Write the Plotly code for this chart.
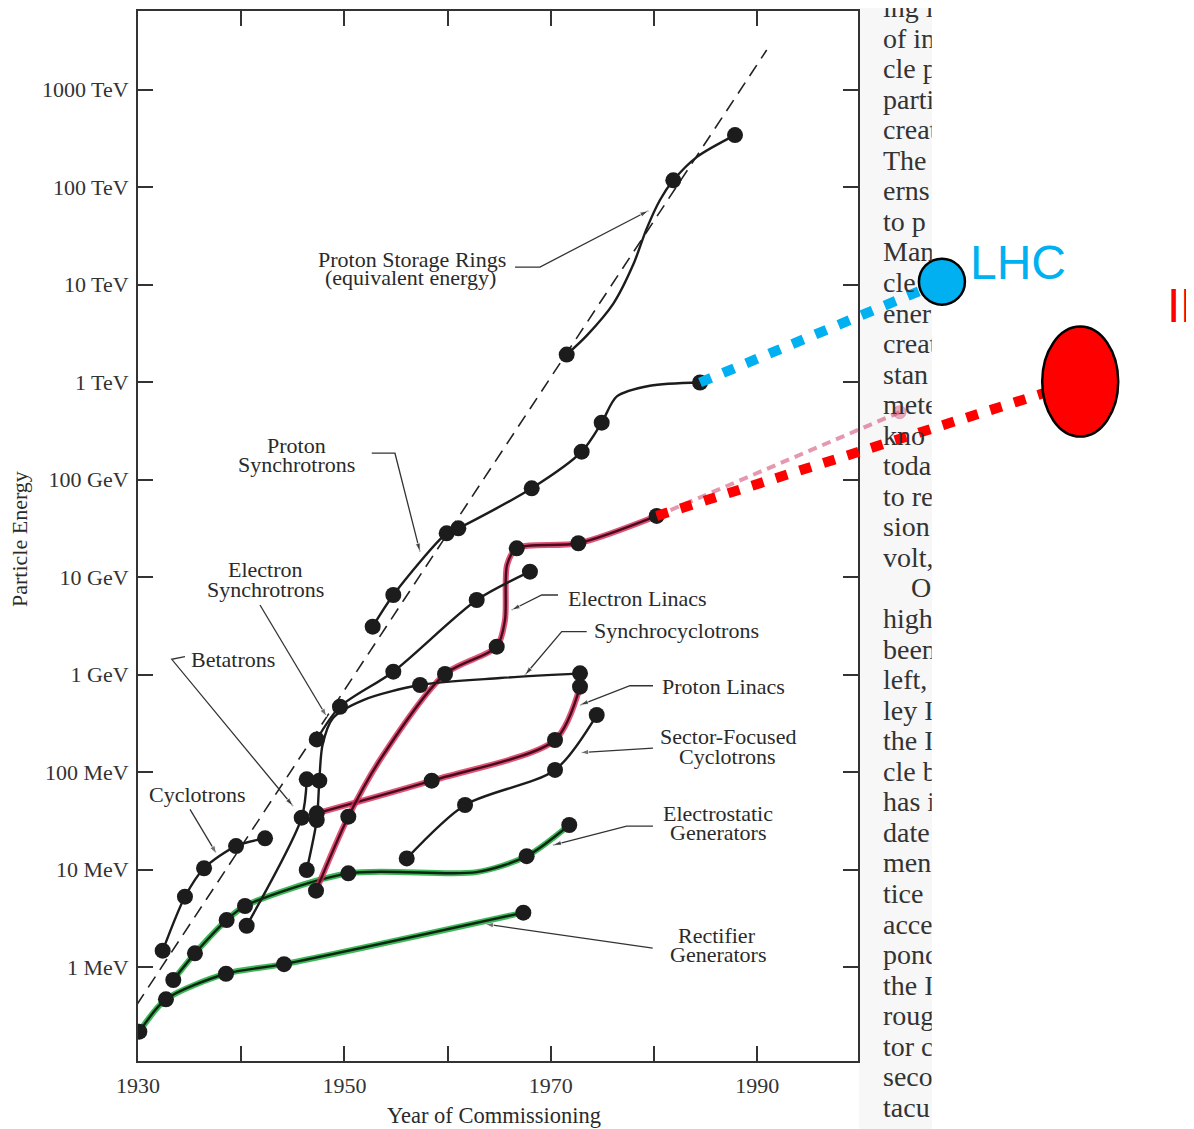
import math
import plotly.graph_objects as go

# the page adds an 8 px body margin, so the figure is 8 px smaller than the window
OFF = 8
W, H = 1194 - OFF, 1129 - OFF

# ---------------- data: year of commissioning, particle energy (MeV) ----------------
rect_year = [1930.13, 1932.71, 1938.53, 1944.15, 1967.34]
rect_mev = [0.217, 0.466, 0.853, 1.07, 3.61]

estat_year = [1933.42, 1935.52, 1938.59, 1940.37, 1950.38, 1967.66, 1971.79]
estat_mev = [0.736, 1.38, 3.03, 4.22, 9.14, 13.7, 28.6]
estat_curve_year = [1933.42, 1935.52, 1938.59, 1940.37, 1950.38, 1962.8, 1967.66, 1971.79]
estat_curve_mev = [0.736, 1.38, 3.03, 4.22, 9.14, 9.40, 13.7, 28.6]

cyc_year = [1932.39, 1934.55, 1936.40, 1939.50, 1942.31]
cyc_mev = [1.47, 5.26, 10.3, 17.4, 20.9]

beta_year = [1940.53, 1945.86, 1946.35]
beta_mev = [2.65, 34.0, 84.1]

esync_year = [1947.32, 1949.57, 1954.74, 1962.82, 1967.98]
esync_mev = [216, 467, 1069, 5808, 11330]

sc_year = [1946.35, 1947.32, 1947.57, 1957.33, 1972.83]
sc_mev = [9.89, 32.2, 81.4, 780, 1028]
sc_curve_year = [1946.35, 1947.32, 1947.57, 1947.88, 1948.90, 1951.83, 1957.33, 1965.08, 1972.83]
sc_curve_mev = [9.89, 32.2, 81.4, 189, 358, 547, 780, 920, 1028]

plin_year = [1947.32, 1958.46, 1970.41, 1972.83]
plin_mev = [37.7, 81.5, 213, 750]

elin_year = [1947.25, 1950.38, 1959.75, 1964.76, 1966.70, 1972.67, 1980.26]
elin_mev = [6.06, 34.8, 1012, 1928, 19690, 22180, 42270]
elin_curve_year = [1947.25, 1950.38, 1953.45, 1959.75, 1964.76, 1965.56, 1965.76, 1966.70, 1972.67, 1980.26]
elin_curve_mev = [6.06, 34.8, 133, 1012, 1928, 3622, 13280, 19690, 22180, 42270]

sfc_year = [1956.04, 1961.69, 1970.41, 1974.45]
sfc_mev = [13.0, 45.9, 105, 384]

psync_year = [1952.74, 1954.74, 1959.91, 1961.04, 1968.15, 1972.99, 1974.93, 1984.46]
psync_mev = [3093, 6535, 28070, 31580, 81200, 192800, 382600, 988000]
psync_curve_year = [1952.74, 1954.74, 1959.91, 1961.04, 1968.15, 1972.99, 1974.93, 1976.4, 1979.6, 1984.46]
psync_curve_mev = [3093, 6535, 28070, 31580, 81200, 192800, 382600, 711000, 916000, 988000]

psr_year = [1971.54, 1981.87, 1987.85]
psr_mev = [1.91e6, 1.17e8, 3.41e8]
psr_curve_year = [1971.54, 1973.48, 1976.06, 1978.0, 1979.29, 1980.58, 1981.87, 1984.2, 1987.85]
psr_curve_mev = [1.91e6, 2.99e6, 6.37e6, 1.61e7, 3.74e7, 7.36e7, 1.17e8, 2.05e8, 3.41e8]

trend_year = [1929.87, 1990.92]
trend_mev = [0.408, 2.54e9]

# future machines
lhc_year, lhc_mev = 2007.9, 1.07e7
ilc_year, ilc_mev = 2021.3, 1.01e6
old_guess_year = [1980.26, 2003.8]
old_guess_mev = [42270, 4.9e5]

# leader lines of the labels (year, MeV)
leaders = {
    "storage": ([1966.53, 1968.95, 1979.45], [1.51e7, 1.51e7, 5.71e7]),
    "psync": ([1952.65, 1954.90, 1957.32], [1.86e5, 1.86e5, 1.82e4]),
    "esync": ([1941.82, 1948.29], [5164, 369]),
    "beta": ([1934.55, 1933.27, 1945.02], [1523, 1432, 44.8]),
    "cyc": ([1935.04, 1937.63], [41.4, 14.4]),
    "elin": ([1970.70, 1969.12, 1966.21], [6535, 6535, 4590]),
    "sc": ([1973.48, 1971.06, 1967.50], [2748, 2748, 988]),
    "plin": ([1979.90, 1977.67, 1972.83], [767, 767, 486]),
    "sfc": ([1979.90, 1972.83], [176, 158]),
    "estat": ([1979.90, 1977.35, 1970.21], [27.9, 27.9, 17.8]),
    "rect": ([1979.87, 1963.62], [1.56, 2.76]),
}

y_tickvals = [1, 10, 100, 1e3, 1e4, 1e5, 1e6, 1e7, 1e8, 1e9]
y_ticktext = ["1 MeV", "10 MeV", "100 MeV", "1 GeV", "10 GeV", "100 GeV",
              "1 TeV", "10 TeV", "100 TeV", "1000 TeV"]
x_tickvals = [1930, 1940, 1950, 1960, 1970, 1980, 1990]
x_ticktext = ["1930", "", "1950", "", "1970", "", "1990"]
timeline_ticks = [2010, 2020, 2030]

book_lines = ["ing l", "of in", "cle p", "parti", "creat", "The ", "erns", "to p",
              "Man", "cle", "ener", "creat", "stan", "mete", "kno", "toda", "to re",
              "sion", "volt,", "\u00a0\u00a0\u00a0\u00a0O", "high", "been", "left,",
              "ley I", "the I", "cle b", "has i", "date", "men", "tice", "acce",
              "ponc", "the I", "roug", "tor c", "seco", "tacu"]

# ---------------- layout helpers (window pixels -> paper) ----------------
def px(x):
    return (x - OFF) / W


def py(y):
    return 1 - (y - OFF) / H


# pixel scale of the main chart (shared by the overlay axes)
X0, PX_PER_YEAR = 138.0, 10.32
Y0, PX_PER_DECADE = 967.0, 97.5


def year_px(year):
    return X0 + (year - 1930) * PX_PER_YEAR


def mev_py(mev):
    return Y0 - PX_PER_DECADE * math.log10(mev)


SERIF = "Liberation Serif, Times New Roman, serif"
SANS = "Liberation Sans, Arial, sans-serif"
INK = "#1c1c1c"
GREY = "#333333"

fig = go.Figure()

# reference dashed trend line
fig.add_trace(go.Scatter(x=trend_year, y=trend_mev, mode="lines",
                         line=dict(color="#222", width=1.6, dash="13px,8px"),
                         hoverinfo="skip", xaxis="x", yaxis="y"))

# leader lines
for key, (lx, ly) in leaders.items():
    sizes = [0] * (len(lx) - 1) + [9]
    fig.add_trace(go.Scatter(x=lx, y=ly, mode="lines+markers",
                             line=dict(color=GREY, width=1.3),
                             marker=dict(symbol="arrow", size=sizes, color=GREY,
                                         angleref="previous"),
                             hoverinfo="skip", xaxis="x", yaxis="y"))

GREEN_HALO = "rgba(40,175,70,0.9)"
RED_HALO = "rgba(215,40,85,0.8)"

curves = [
    (rect_year, rect_mev, GREEN_HALO, "#0d2410"),
    (estat_curve_year, estat_curve_mev, GREEN_HALO, "#0d2410"),
    (plin_year, plin_mev, RED_HALO, "#4a0a1e"),
    (elin_curve_year, elin_curve_mev, RED_HALO, "#4a0a1e"),
]
for cx, cy, halo, core in curves:
    fig.add_trace(go.Scatter(x=cx, y=cy, mode="lines",
                             line=dict(color=halo, width=6, shape="spline", smoothing=0.8),
                             hoverinfo="skip", xaxis="x", yaxis="y"))
    fig.add_trace(go.Scatter(x=cx, y=cy, mode="lines",
                             line=dict(color=core, width=2.4, shape="spline", smoothing=0.8),
                             hoverinfo="skip", xaxis="x", yaxis="y"))

black_curves = [
    (cyc_year, cyc_mev),
    (beta_year, beta_mev),
    (esync_year, esync_mev),
    (sc_curve_year, sc_curve_mev),
    (sfc_year, sfc_mev),
    (psync_curve_year, psync_curve_mev),
    (psr_curve_year, psr_curve_mev),
]
for cx, cy in black_curves:
    fig.add_trace(go.Scatter(x=cx, y=cy, mode="lines",
                             line=dict(color=INK, width=2.4, shape="spline", smoothing=0.8),
                             hoverinfo="skip", xaxis="x", yaxis="y"))

# machine markers
all_points = [
    (rect_year, rect_mev), (estat_year, estat_mev), (cyc_year, cyc_mev),
    (beta_year, beta_mev), (esync_year, esync_mev), (sc_year, sc_mev),
    (plin_year, plin_mev), (elin_year, elin_mev), (sfc_year, sfc_mev),
    (psync_year, psync_mev), (psr_year, psr_mev),
]
for mx, my in all_points:
    fig.add_trace(go.Scatter(x=mx, y=my, mode="markers",
                             marker=dict(color=INK, size=16, line=dict(width=0)),
                             hoverinfo="skip", xaxis="x", yaxis="y"))

# ---------------- overlay: future machines ----------------
fig.add_trace(go.Scatter(x=old_guess_year, y=old_guess_mev, mode="lines+markers",
                         line=dict(color="rgba(205,70,110,0.55)", width=4, dash="9px,6px"),
                         marker=dict(size=[0, 13], color="rgba(205,70,110,0.6)"),
                         hoverinfo="skip", xaxis="x2", yaxis="y2"))
fig.add_trace(go.Scatter(x=[elin_year[-1], ilc_year], y=[elin_mev[-1], ilc_mev], mode="lines",
                         line=dict(color="#ff0000", width=10, dash="12px,13px"),
                         hoverinfo="skip", xaxis="x2", yaxis="y2"))
fig.add_trace(go.Scatter(x=[psync_year[-1], lhc_year], y=[psync_mev[-1], lhc_mev], mode="lines",
                         line=dict(color="#00b0f0", width=10, dash="12px,13px"),
                         hoverinfo="skip", xaxis="x2", yaxis="y2"))
fig.add_trace(go.Scatter(x=[lhc_year], y=[lhc_mev], mode="markers",
                         marker=dict(symbol="circle", size=46, color="#00b0f0",
                                     line=dict(color="black", width=2.5)),
                         hoverinfo="skip", xaxis="x2", yaxis="y2"))

# ---------------- book text column (clipped) ----------------
fig.add_trace(go.Scatter(x=[0.0] * len(book_lines), y=list(range(len(book_lines))),
                         mode="text", text=book_lines, textposition="middle right",
                         textfont=dict(family=SERIF, size=28, color="#333"),
                         cliponaxis=True, hoverinfo="skip", xaxis="x4", yaxis="y4"))

ilc_x, ilc_y = year_px(ilc_year), mev_py(ilc_mev)
shapes = [
    dict(type="rect", xref="paper", yref="paper", x0=px(859), x1=px(932), y0=0, y1=1,
         fillcolor="#f7f7f7", line=dict(width=0), layer="below"),
    dict(type="circle", xref="paper", yref="paper",
         x0=px(ilc_x - 38), x1=px(ilc_x + 38), y0=py(ilc_y + 55), y1=py(ilc_y - 55),
         fillcolor="#ff0000", line=dict(color="black", width=2.5), layer="above"),
]

ann = []


def label(text, x, y, size=22, **kw):
    ann.append(dict(text=text, x=px(x), y=py(y), xref="paper", yref="paper",
                    showarrow=False, xanchor=kw.get("xanchor", "center"), yanchor="middle",
                    font=dict(family=kw.get("family", SERIF), size=size,
                              color=kw.get("color", "#2a2a2a")),
                    textangle=kw.get("textangle", 0)))


label("Proton Storage Rings", 412, 259)
label("(equivalent energy)", 410, 278)
label("Proton", 296, 445)
label("Synchrotrons", 296, 465)
label("Electron", 265, 569)
label("Synchrotrons", 265, 589)
label("Betatrons", 233, 659)
label("Cyclotrons", 197, 794)
label("Electron Linacs", 637, 598)
label("Synchrocyclotrons", 676, 630)
label("Proton Linacs", 723, 686)
label("Sector-Focused", 728, 736)
label("Cyclotrons", 727, 756)
label("Electrostatic", 718, 813)
label("Generators", 718, 832)
label("Rectifier", 717, 935)
label("Generators", 718, 954)
label("Particle Energy", 20, 539, size=22, textangle=-90)
label("Year of Commissioning", 494, 1115, size=22.5)
label("LHC", 968, 262, size=48, family=SANS, color="#00b0f0", xanchor="left")
label("ILC", 1165, 306, size=48, family=SANS, color="#ff0000", xanchor="left")

# ---------------- axes ----------------
x_lo = 1930 + (138.0 - X0) / PX_PER_YEAR
x_hi = 1930 + (858 - X0) / PX_PER_YEAR
y_lo = (Y0 - 1061) / PX_PER_DECADE
y_hi = (Y0 - 11) / PX_PER_DECADE

axis_common = dict(showgrid=False, zeroline=False, automargin=False)

fig.update_layout(
    width=W, height=H,
    margin=dict(l=0, r=0, t=0, b=0),
    paper_bgcolor="white", plot_bgcolor="rgba(0,0,0,0)",
    showlegend=False,
    shapes=shapes, annotations=ann,
    xaxis=dict(domain=[px(138), px(858)], range=[x_lo, x_hi], anchor="y",
               tickvals=x_tickvals, ticktext=x_ticktext, ticks="inside", ticklen=15,
               tickwidth=1.8, tickcolor=GREY, showline=True, linecolor=GREY, linewidth=2,
               mirror="ticks", tickfont=dict(family=SERIF, size=22, color="#333"),
               ticklabelstandoff=4, **axis_common),
    yaxis=dict(domain=[py(1061), py(11)], type="log", range=[y_lo, y_hi], anchor="x",
               tickvals=y_tickvals, ticktext=y_ticktext, ticks="inside", ticklen=15,
               tickwidth=1.8, tickcolor=GREY, showline=True, linecolor=GREY, linewidth=2,
               mirror="ticks", tickfont=dict(family=SERIF, size=22, color="#333"),
               ticklabelstandoff=3, **axis_common),
    xaxis2=dict(domain=[0, 1],
                range=[1930 + (OFF - X0) / PX_PER_YEAR, 1930 + (1194 - X0) / PX_PER_YEAR],
                anchor="y2", visible=False, **axis_common),
    yaxis2=dict(domain=[0, 1], type="log",
                range=[(Y0 - 1129) / PX_PER_DECADE, (Y0 - OFF) / PX_PER_DECADE],
                anchor="x2", visible=False, **axis_common),
    xaxis3=dict(domain=[px(931.7), px(1166)], range=[2006.88, 2030], anchor="y3",
                tickvals=timeline_ticks, ticks="inside", ticklen=23, tickwidth=3,
                tickcolor="#4f81bd", showline=True, linecolor="#4f81bd", linewidth=3,
                tickfont=dict(family=SANS, size=24, color="black"),
                ticklabelstandoff=14, **axis_common),
    yaxis3=dict(domain=[py(1059), py(1030)], range=[0, 1], anchor="x3", visible=False,
                **axis_common),
    xaxis4=dict(domain=[px(883), px(931.7)], range=[0, 1], anchor="y4", visible=False,
                **axis_common),
    yaxis4=dict(domain=[0, 1], range=[(1129 - 10) / 30.55, (OFF - 10) / 30.55], anchor="x4",
                visible=False, **axis_common),
)

fig.write_html("out.html")
